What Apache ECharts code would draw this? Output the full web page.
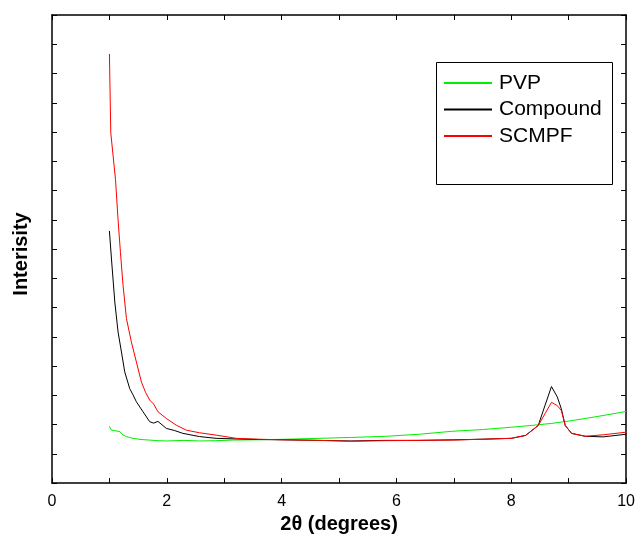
<!DOCTYPE html>
<html><head><meta charset="utf-8">
<script src="https://cdn.jsdelivr.net/npm/echarts@6/dist/echarts.min.js"></script>
<style>html,body{margin:0;padding:0;background:#fff}#c{width:638px;height:539px}</style>
</head><body><div id="c"></div>
<script>
var xTicks = [0, 2, 4, 6, 8, 10];
var seriesNames = ['PVP', 'Compound', 'SCMPF'];
var xTitle = '2θ (degrees)';
var yTitle = 'Interisity';
var pvpX = [1.00,1.03,1.064,1.10,1.181,1.24,1.297,1.35,1.412,1.55,1.701,1.85,1.991,2.3,2.569,2.85,3.148,3.6,4.1,4.65,5.2,5.82,6.4,6.96,7.5,8.0,8.35,8.70,9.0,9.29,9.6,10.0];
var pvpY = [1.94,1.82,1.76,1.79,1.76,1.64,1.59,1.56,1.53,1.49,1.47,1.45,1.44,1.46,1.44,1.45,1.47,1.48,1.50,1.53,1.56,1.60,1.67,1.77,1.83,1.91,1.97,2.04,2.12,2.21,2.31,2.45];
var compX = [1.00,1.036,1.094,1.151,1.210,1.267,1.354,1.41,1.470,1.585,1.701,1.77,1.845,1.991,2.13,2.280,2.569,2.859,3.207,3.6,4.0,4.65,5.2,5.8,6.39,7.0,7.5,8.0,8.25,8.47,8.59,8.70,8.80,8.87,8.94,9.05,9.29,9.6,10.0];
var compY = [8.62,7.66,6.19,5.16,4.48,3.80,3.23,3.02,2.78,2.44,2.10,2.05,2.11,1.87,1.80,1.70,1.59,1.53,1.51,1.49,1.48,1.46,1.44,1.46,1.46,1.48,1.50,1.53,1.63,1.97,2.67,3.30,2.95,2.55,1.97,1.70,1.60,1.58,1.67];
var scmpfX = [1.00,1.024,1.106,1.150,1.192,1.238,1.297,1.383,1.470,1.557,1.63,1.701,1.77,1.845,1.991,2.165,2.339,2.569,2.859,3.207,3.6,4.0,4.65,5.2,5.8,6.4,7.0,7.5,8.0,8.25,8.47,8.59,8.70,8.80,8.87,8.94,9.05,9.29,9.6,10.0];
var scmpfY = [14.67,11.97,10.38,9.02,7.89,6.75,5.62,4.82,4.14,3.46,3.10,2.84,2.70,2.44,2.21,1.98,1.81,1.72,1.64,1.53,1.50,1.48,1.46,1.43,1.45,1.46,1.47,1.50,1.53,1.63,1.97,2.38,2.76,2.65,2.49,1.97,1.70,1.60,1.65,1.74];

function zip(xs, ys){ return xs.map(function(x,i){ return [x, ys[i]]; }); }
var colors = ['#00ee00', '#000000', '#ff0000'];
var font = 'Liberation Sans, Arial, sans-serif';
var chart = echarts.init(document.getElementById('c'));
var axisBase = {
  axisLine: {show: true, onZero: false, lineStyle: {color: '#000', width: 1.5}},
  splitLine: {show: false}
};
var tickStyle = {inside: true, length: 5, lineStyle: {color: '#000'}};
chart.setOption({
  animation: false,
  backgroundColor: '#fff',
  grid: {left: 52, right: 10, top: 15, bottom: 54},
  legend: {
    data: seriesNames, orient: 'vertical', left: 444, top: 72.5, padding: 0,
    itemWidth: 48, itemHeight: 2, itemGap: 5.5, icon: 'rect',
    textStyle: {fontFamily: font, fontSize: 21, color: '#000', padding: [0, 0, 0, 2]}
  },
  graphic: [
    {type: 'rect', shape: {x: 436.5, y: 62.5, width: 176, height: 122},
      style: {fill: 'none', stroke: '#000', lineWidth: 1}, z: 10},
    {type: 'text', x: 21, y: 254, rotation: Math.PI / 2,
      style: {text: yTitle, fontFamily: font, fontSize: 20, fontWeight: 'bold', fill: '#000',
        align: 'center', verticalAlign: 'middle'}}
  ],
  xAxis: [
    Object.assign({type: 'value', min: 0, max: 10, interval: 2, position: 'bottom',
      name: xTitle, nameLocation: 'middle', nameGap: 29,
      nameTextStyle: {fontFamily: font, fontSize: 20, fontWeight: 'bold', color: '#000'},
      axisTick: tickStyle,
      minorTick: {show: true, splitNumber: 2, length: 5, lineStyle: {color: '#000'}},
      axisLabel: {fontFamily: font, fontSize: 16, color: '#000', margin: 10,
        formatter: function(v){ return xTicks.indexOf(v) >= 0 ? String(v) : ''; }}
    }, axisBase),
    Object.assign({type: 'value', min: 0, max: 10, interval: 2, position: 'top',
      axisTick: tickStyle,
      minorTick: {show: true, splitNumber: 2, length: 5, lineStyle: {color: '#000'}},
      axisLabel: {show: false}}, axisBase)
  ],
  yAxis: [
    Object.assign({type: 'value', min: 0, max: 16, interval: 1, position: 'left',
      axisTick: tickStyle,
      axisLabel: {show: false}}, axisBase),
    Object.assign({type: 'value', min: 0, max: 16, interval: 1, position: 'right',
      axisTick: tickStyle,
      axisLabel: {show: false}}, axisBase)
  ],
  series: [
    {name: seriesNames[0], type: 'line', data: zip(pvpX, pvpY), color: colors[0]},
    {name: seriesNames[1], type: 'line', data: zip(compX, compY), color: colors[1]},
    {name: seriesNames[2], type: 'line', data: zip(scmpfX, scmpfY), color: colors[2]}
  ].map(function(s){
    s.showSymbol = false; s.symbol = 'none';
    s.lineStyle = {width: 1, color: s.color};
    s.itemStyle = {color: s.color};
    return s;
  })
});
</script></body></html>
